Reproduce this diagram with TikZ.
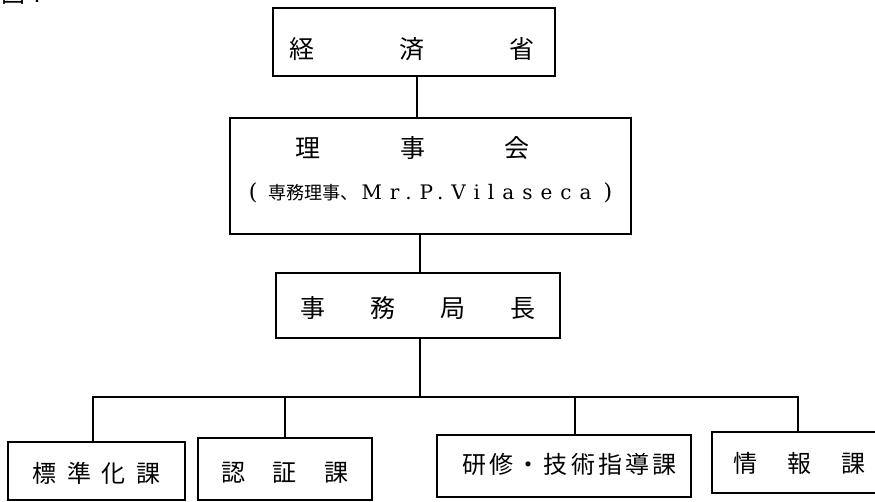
\documentclass[tikz,border=0pt]{standalone}
\usepackage{fontspec}
\newfontfamily\jp{Noto Sans CJK JP}
\newfontfamily\lat[LetterSpace=40]{DejaVu Serif}
\newfontfamily\latparen{DejaVu Serif}
\newcommand\spreadtext[2]{\makebox[#1][s]{#2}}
\newcommand\lowered[2]{\raisebox{-#1}[\height][\depth]{#2}}
\begin{document}
\begin{tikzpicture}[x=1pt,y=-1pt,
  box/.style={draw, line width=1.9pt, inner sep=0pt, align=center},
  big/.style={font=\jp\fontsize{25}{30}\selectfont},
  small/.style={font=\jp\fontsize{24}{29}\selectfont},
  link/.style={line width=1.9pt, line cap=rect}]
\useasboundingbox (0,0) rectangle (875,502);

% figure label, cut by the top edge as in the reference
\node[anchor=base west, inner sep=0pt, font=\jp\fontsize{24}{28}\selectfont] (fig) at (1,3) {図\hspace{6pt}7};

% boxes
\node[box, big, minimum width=282pt, minimum height=68pt] (moe) at (414,42)
  {\lowered{7pt}{\spreadtext{245pt}{経\hfill{}済\hfill{}省}\hspace*{5pt}}};

\node[box, big, minimum width=401pt, minimum height=116pt] (board) at (430.5,176)
  {\lowered{-3pt}{\begin{tabular}{@{}c@{}}
   \spreadtext{234pt}{理\hfill{}事\hfill{}会}\hspace*{36pt}\\[12pt]
   {\latparen\fontsize{22}{26}\selectfont (}\hspace{11pt}{\jp\fontsize{18}{22}\selectfont 専務理事、}\hspace{3pt}{\lat\fontsize{20}{24}\selectfont Mr.P.Vilaseca}\hspace{12pt}{\latparen\fontsize{22}{26}\selectfont )}
  \end{tabular}}};

\node[box, big, minimum width=284pt, minimum height=65pt] (dg) at (418,305.5)
  {\lowered{2.5pt}{\spreadtext{235pt}{事\hfill{}務\hfill{}局\hfill{}長}}};

\node[box, small, minimum width=177pt, minimum height=58pt] (std) at (96.5,471)
  {\lowered{2pt}{\spreadtext{128pt}{標\hfill{}準\hfill{}化\hfill{}課}}};

\node[box, small, minimum width=174pt, minimum height=62pt] (cert) at (285,469)
  {\lowered{4pt}{\spreadtext{128pt}{認\hfill{}証\hfill{}課}}};

\node[box, small, minimum width=254pt, minimum height=62pt] (train) at (564,466)
  {\lowered{-2pt}{\hspace*{11pt}\spreadtext{215pt}{研\hfill{}修\hfill{}・\hfill{}技\hfill{}術\hfill{}指\hfill{}導\hfill{}課}}};

\node[box, small, minimum width=178pt, minimum height=61pt] (info) at (801,462.5)
  {\lowered{0.5pt}{\spreadtext{132pt}{情\hfill{}報\hfill{}課}\hspace*{4pt}}};

% connector coordinates
\coordinate (xa) at (417,0);
\coordinate (xb) at (420,0);
\coordinate (bus) at (420,397);
\coordinate (d1) at (93,397);
\coordinate (d2) at (285,397);
\coordinate (d3) at (575,397);
\coordinate (d4) at (798,397);

\draw[link] (xa |- moe.south) -- (xa |- board.north);
\draw[link] (xb |- board.south) -- (xb |- dg.north);
\draw[link] (dg.south -| bus) -- (bus);
\draw[link] (d1 |- std.north) -- (d1) -- (d4) -- (d4 |- info.north);
\draw[link] (d2) -- (d2 |- cert.north);
\draw[link] (d3) -- (d3 |- train.north);
\end{tikzpicture}
\end{document}
